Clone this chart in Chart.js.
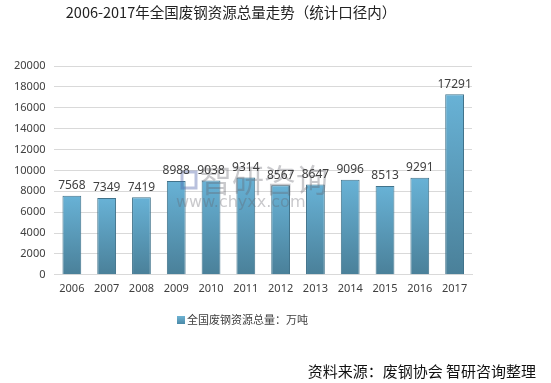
<!DOCTYPE html>
<html><head><meta charset="utf-8">
<script src="https://cdn.jsdelivr.net/npm/chart.js@4"></script>
<style>html,body{margin:0;padding:0;background:#fff}#wrap{width:551px;height:383px;position:relative}</style>
</head><body>
<div id="wrap"><canvas id="c" width="551" height="383"></canvas></div>
<script>
const categories = ['2006','2007','2008','2009','2010','2011','2012','2013','2014','2015','2016','2017'];
const values = [7568, 7349, 7419, 8988, 9038, 9314, 8567, 8647, 9096, 8513, 9291, 17291];
const seriesName = '全国废钢资源总量：万吨';
const titleText = '2006-2017年全国废钢资源总量走势（统计口径内）';
const sourceText = '资料来源：废钢协会 智研咨询整理';
const yTicks = [0,2000,4000,6000,8000,10000,12000,14000,16000,18000,20000];

const CJK = '"Microsoft YaHei","Noto Sans CJK SC","Noto Sans",sans-serif';

const textPlugin = {
  id: 'texts',
  afterDatasetsDraw(chart) {
    const ctx = chart.ctx;
    const meta = chart.getDatasetMeta(0);
    ctx.save();
    // watermark
    ctx.fillStyle = 'rgba(100,100,110,0.35)';
    ctx.font = '32px ' + CJK;
    ctx.textAlign = 'left'; ctx.textBaseline = 'alphabetic';
    ctx.fillText('智研咨询', 200, 192);
    ctx.font = '16px "DejaVu Sans",sans-serif';
    ctx.fillText('www.chyxx.com', 176, 207);
    ctx.strokeStyle = 'rgba(80,100,170,0.4)';
    ctx.lineWidth = 3;
    ctx.strokeRect(182, 172, 14, 16);
    // data labels
    ctx.fillStyle = '#404040';
    ctx.font = '12px "Noto Sans",sans-serif';
    ctx.textAlign = 'center'; ctx.textBaseline = 'bottom';
    meta.data.forEach((bar, i) => {
      ctx.fillText(String(values[i]), bar.x, bar.y - 4);
    });
    // title
    ctx.fillStyle = '#222';
    ctx.font = '14.5px ' + CJK;
    ctx.textAlign = 'center'; ctx.textBaseline = 'middle';
    ctx.fillText(titleText, 231, 12);
    // legend
    const lx = 177, ly = 320;
    const g = ctx.createLinearGradient(0, ly-4, 0, ly+4);
    g.addColorStop(0, '#6fb3d3'); g.addColorStop(1, '#4a8aa8');
    ctx.fillStyle = g;
    ctx.fillRect(lx, ly-4, 8, 8);
    ctx.fillStyle = '#404040';
    ctx.font = '11px ' + CJK;
    ctx.textAlign = 'left';
    ctx.fillText(seriesName, lx + 10, ly);
    // source
    ctx.fillStyle = '#111';
    ctx.font = '15px ' + CJK;
    ctx.textAlign = 'right';
    ctx.fillText(sourceText, 536, 371);
    ctx.restore();
  }
};

function barGradient(c) {
  const chart = c.chart;
  const area = chart.chartArea;
  if (!area || c.raw == null) return '#5a9dbd';
  const top = chart.scales.y.getPixelForValue(c.raw);
  const g = chart.ctx.createLinearGradient(0, top, 0, area.bottom);
  g.addColorStop(0, '#68b2d6');
  g.addColorStop(1, '#4a8099');
  return g;
}

new Chart(document.getElementById('c'), {
  type: 'bar',
  data: {
    labels: categories,
    datasets: [{
      label: seriesName,
      data: values,
      backgroundColor: barGradient,
      borderColor: '#41738b',
      borderWidth: 1,
      categoryPercentage: 1,
      barPercentage: 0.54
    }]
  },
  options: {
    responsive: false,
    animation: false,
    devicePixelRatio: 1,
    layout: { padding: { top: 66, bottom: 81, left: 5, right: 79 } },
    plugins: { legend: { display: false }, title: { display: false }, tooltip: { enabled: false } },
    scales: {
      x: {
        grid: { display: false, drawTicks: false },
        border: { color: '#d9d9d9' },
        ticks: { color: '#404040', font: { size: 11, family: '"Noto Sans",sans-serif' }, padding: 7 }
      },
      y: {
        min: 0, max: 20000,
        afterBuildTicks(axis) { axis.ticks = yTicks.map(v => ({ value: v })); },
        grid: { color: '#d9d9d9', drawTicks: false },
        border: { display: false },
        ticks: { color: '#404040', font: { size: 11, family: '"Noto Sans",sans-serif' }, padding: 9,
                 callback: v => String(v) }
      }
    }
  },
  plugins: [textPlugin]
});
</script>
</body></html>
